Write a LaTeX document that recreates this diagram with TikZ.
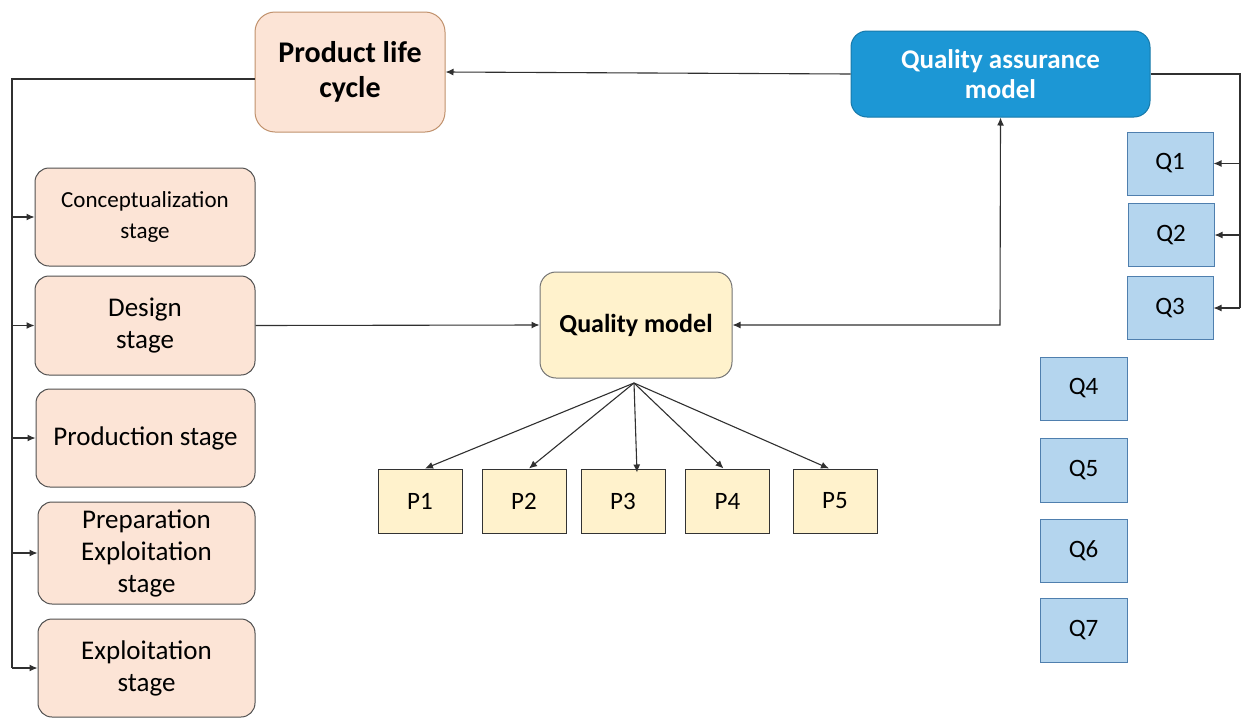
\documentclass[tikz,border=0pt]{standalone}
\usepackage{fontspec}
\setmainfont{Carlito}
\usetikzlibrary{arrows.meta,calc}
\definecolor{peach}{HTML}{FCE4D6}
\definecolor{peachline}{HTML}{C0916C}
\definecolor{stageline}{HTML}{505050}
\definecolor{yel}{HTML}{FFF2CC}
\definecolor{qblue}{HTML}{B4D5EE}
\definecolor{qline}{HTML}{4F7FAE}
\definecolor{qamodel}{HTML}{1C97D5}
\definecolor{conn}{HTML}{303030}
\tikzset{
  box/.style={draw, inner sep=0pt, align=center, line width=1pt},
  stagebox/.style={box, fill=peach, draw=stageline, rounded corners=14pt, minimum width=220pt, font=\fontsize{27}{32}\selectfont},
  pbox/.style={box, fill=yel, draw=black!80, minimum width=84pt, minimum height=64pt, font=\fontsize{25}{28}\selectfont},
  qbox/.style={box, fill=qblue, draw=qline, minimum width=86pt, minimum height=63pt, font=\fontsize{25}{28}\selectfont},
  tip/.tip={Latex[length=8pt,width=7pt]},
  conn/.style={draw=conn, line width=1.1pt, -tip},
  plain/.style={draw=conn, line width=1.1pt},
}
\begin{document}
\begin{tikzpicture}[x=1pt,y=-1pt]
\useasboundingbox (0,0) rectangle (1242,718);
% main nodes
\node[box, fill=peach, draw=peachline, rounded corners=20pt, minimum width=190pt, minimum height=120pt, font=\fontsize{30}{35}\selectfont\bfseries] (plc) at (350,72) {Product life\\cycle};
\node[box, fill=qamodel, draw=qamodel!80!black, text=white, rounded corners=16pt, minimum width=299pt, minimum height=86pt, font=\fontsize{27}{30}\selectfont\bfseries] (qa) at (1000.5,74) {Quality assurance\\model};
\node[box, fill=yel, draw=black!55, rounded corners=16pt, minimum width=192pt, minimum height=106pt, font=\fontsize{26}{30}\selectfont\bfseries] (qm) at (636,325) {Quality model};
% stages
\node[stagebox, minimum height=98pt, font=\fontsize{23}{31}\selectfont] (s1) at (145,217) {Conceptualization\\stage};
\node[stagebox, minimum height=99pt] (s2) at (145,325.5) {Design\\stage};
\node[stagebox, minimum height=98pt, minimum width=219pt] (s3) at (145.5,438) {Production stage};
\node[stagebox, minimum height=102pt, minimum width=217pt] (s4) at (146.5,553) {Preparation\\Exploitation\\stage};
\node[stagebox, minimum height=98pt, minimum width=217pt] (s5) at (146.5,668) {Exploitation\\stage};
% P boxes
\node[pbox] (p1) at (420,501) {P1};
\node[pbox] (p2) at (524,501) {P2};
\node[pbox] (p3) at (623,501) {P3};
\node[pbox] (p4) at (727.5,501) {P4};
\node[pbox] (p5) at (835,501) {P5};
% Q boxes
\node[qbox] (q1) at (1170,163.5) {Q1};
\node[qbox] (q2) at (1171,235) {Q2};
\node[qbox] (q3) at (1170,308) {Q3};
\node[qbox, minimum width=87pt] (q4) at (1083.5,388.5) {Q4};
\node[qbox, minimum width=87pt, minimum height=64pt] (q5) at (1083.5,470) {Q5};
\node[qbox, minimum width=87pt] (q6) at (1083.5,550.5) {Q6};
\node[qbox, minimum width=87pt, minimum height=64pt] (q7) at (1083.5,630) {Q7};
% connectors
\draw[conn] (qa.west) -- (plc.east);
\coordinate (ltop) at (12,79);
\coordinate (lbot) at (12,668);
\draw[plain] (plc.west |- ltop) -- (ltop) -- (lbot);
\foreach \s in {s1,s2,s3,s4,s5}{
  \draw[conn] (ltop |- \s.west) -- (\s.west);
}
\draw[conn] (s2.east) -- (qm.west);
\coordinate (qaq) at (1000,325);
\draw[draw=conn, line width=1.1pt, tip-tip] (qm.east) -- (qaq) -- (qa.south);
\coordinate (rtop) at (1240,74);
\coordinate (rbot) at (1240,308);
\draw[plain] (qa.east |- rtop) -- (rtop) -- (rbot);
\foreach \q in {q1,q2,q3}{
  \draw[conn] (rtop |- \q.east) -- (\q.east);
}
\coordinate (qmb) at (634,383);
\draw[conn] (qmb) -- ($(p1.north)+(5,0)$);
\draw[conn] (qmb) -- ($(p2.north)+(5,0)$);
\draw[conn] (qmb) -- ($(p3.north)+(14,4)$);
\draw[conn] (qmb) -- ($(p4.north)+(-4,0)$);
\draw[conn] (qmb) -- ($(p5.north)+(-6,0)$);
\end{tikzpicture}
\end{document}
